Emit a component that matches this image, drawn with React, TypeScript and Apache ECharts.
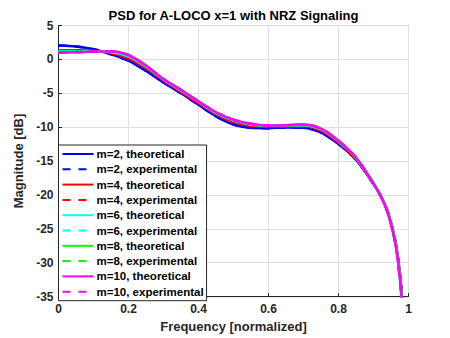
import React, { useEffect, useRef } from "react";
import * as echarts from "echarts";

const freq = [0, 0.05, 0.1, 0.15, 0.2, 0.25, 0.3, 0.35, 0.4, 0.45, 0.5, 0.55, 0.6, 0.65, 0.7, 0.75, 0.8, 0.85, 0.9, 0.92, 0.94, 0.96, 0.97, 0.98, 0.99];
const m2 = [2.05, 1.9, 1.5, 0.75, -0.2, -1.7, -3.4, -5.0, -6.7, -8.4, -9.6, -10.1, -10.15, -10.05, -10.1, -10.8, -12.5, -14.8, -18.4, -20.1, -22.4, -26.2, -29.3, -34.0, -42.0];
const m4 = [1.35, 1.35, 1.25, 0.95, 0.15, -1.3, -3.1, -4.8, -6.45, -8.1, -9.25, -9.8, -9.95, -9.9, -9.85, -10.5, -12.25, -14.65, -18.35, -20.1, -22.45, -26.35, -29.5, -34.5, -43.0];
const m6 = [1.2, 1.2, 1.2, 1.1, 0.45, -1.05, -2.95, -4.6, -6.25, -7.9, -9.0, -9.6, -9.8, -9.75, -9.7, -10.3, -12.1, -14.55, -18.3, -20.1, -22.5, -26.45, -29.7, -34.8, -43.5];
const m8 = [1.1, 1.12, 1.18, 1.15, 0.55, -0.95, -2.9, -4.55, -6.2, -7.85, -8.95, -9.55, -9.78, -9.72, -9.65, -10.25, -12.05, -14.5, -18.3, -20.1, -22.5, -26.5, -29.75, -34.9, -43.8];
const m10 = [1.0, 1.05, 1.15, 1.2, 0.65, -0.9, -2.9, -4.5, -6.2, -7.8, -8.9, -9.5, -9.75, -9.7, -9.6, -10.2, -12.0, -14.5, -18.3, -20.1, -22.5, -26.5, -29.8, -35.0, -44.0];

const mValues = ["2", "4", "6", "8", "10"];
const theoretical = [m2, m4, m6, m8, m10];
const experimental = [m2, m4, m6, m8, m10];
const colors = ["#0000ff", "#ff0000", "#00ffff", "#00ff00", "#ff00ff"];

const FONT = "Liberation Sans, Arial, sans-serif";

export default function App() {
  const ref = useRef<HTMLDivElement>(null);
  useEffect(() => {
    if (!ref.current) return;
    const chart = echarts.init(ref.current, undefined, { renderer: "svg" });
    const series: any[] = [];
    mValues.forEach((m, i) => {
      series.push({
        name: `m=${m}, theoretical`,
        type: "line",
        data: freq.map((f, j) => [f, theoretical[i][j]]),
        smooth: 0.3,
        symbol: "none",
        lineStyle: { color: colors[i], width: 2.5, type: "solid" },
        itemStyle: { color: colors[i] },
      });
      series.push({
        name: `m=${m}, experimental`,
        type: "line",
        data: freq.map((f, j) => [f, experimental[i][j]]),
        smooth: 0.3,
        symbol: "none",
        lineStyle: { color: colors[i], width: 2.5, type: [8, 8] },
        itemStyle: { color: colors[i] },
      });
    });
    chart.setOption({
      animation: false,
      backgroundColor: "#ffffff",
      title: {
        text: "PSD for A-LOCO x=1 with NRZ Signaling",
        left: 233.5,
        textAlign: "center",
        top: 8.5,
        padding: 0,
        textStyle: { fontFamily: FONT, fontWeight: "bold", fontSize: 13, color: "#000000" },
      },
      grid: {
        left: 58.5,
        right: 41.5,
        top: 25.5,
        bottom: 39,
        show: true,
        borderColor: "#262626",
        borderWidth: 1,
        backgroundColor: "#ffffff",
      },
      legend: {
        orient: "vertical",
        left: 58.5,
        top: 145,
        padding: [3, 3, 3, 3],
        itemGap: 3.3,
        itemWidth: 31,
        itemHeight: 12,
        itemStyle: { opacity: 0 },
        lineStyle: { width: 2 },
        backgroundColor: "#ffffff",
        borderColor: "#262626",
        borderWidth: 1,
        borderRadius: 0,
        textStyle: { fontFamily: FONT, fontWeight: "bold", fontSize: 11.5, color: "#000000", padding: [0, 0, 0, -2] },
        data: series.map((s) => s.name),
      },
      xAxis: {
        type: "value",
        min: 0,
        max: 1,
        interval: 0.2,
        name: "Frequency [normalized]",
        nameLocation: "middle",
        nameGap: 22,
        nameTextStyle: { fontFamily: FONT, fontWeight: "bold", fontSize: 13, color: "#262626" },
        axisLine: { show: true, onZero: false, lineStyle: { color: "#262626", width: 1 } },
        axisTick: { show: true, inside: true, length: 3.5, lineStyle: { color: "#262626" } },
        axisLabel: { fontFamily: FONT, fontWeight: "bold", fontSize: 12, color: "#262626", margin: 6.5 },
        splitLine: { show: true, lineStyle: { color: "#dedede", width: 1 } },
      },
      yAxis: {
        type: "value",
        min: -35,
        max: 5,
        interval: 5,
        name: "Magnitude [dB]",
        nameLocation: "middle",
        nameRotate: 90,
        nameGap: 25,
        nameTextStyle: { fontFamily: FONT, fontWeight: "bold", fontSize: 13, color: "#262626" },
        axisLine: { show: true, onZero: false, lineStyle: { color: "#262626", width: 1 } },
        axisTick: { show: true, inside: true, length: 3.5, lineStyle: { color: "#262626" } },
        axisLabel: { fontFamily: FONT, fontWeight: "bold", fontSize: 12, color: "#262626", margin: 5 },
        splitLine: { show: true, lineStyle: { color: "#dedede", width: 1 } },
      },
      series,
    });
    return () => chart.dispose();
  }, []);
  return <div ref={ref} style={{ width: 450, height: 338, position: "fixed", left: 0, top: 0 }} />;
}
